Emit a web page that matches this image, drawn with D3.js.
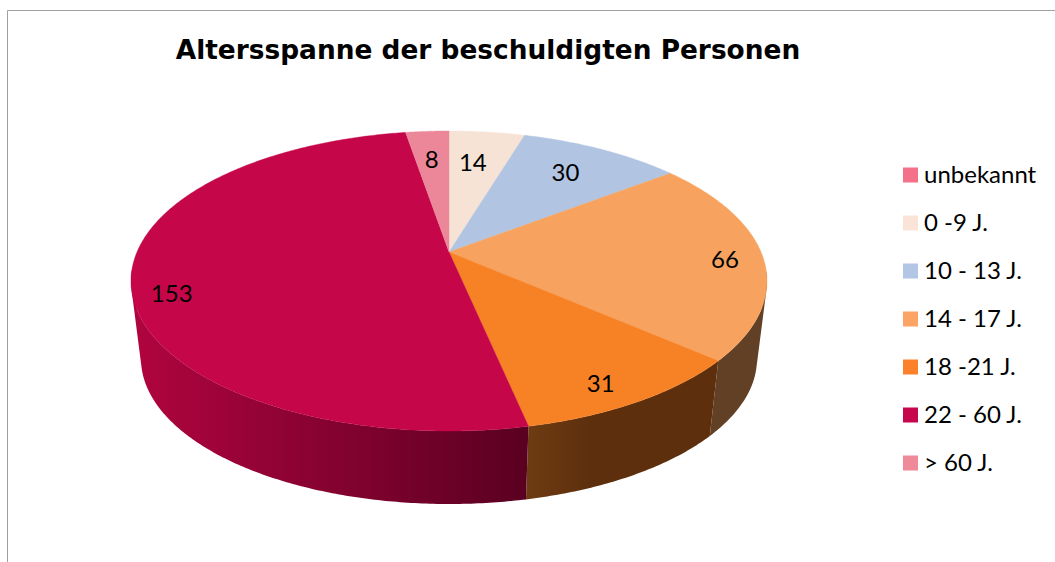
<!DOCTYPE html>
<html>
<head>
<meta charset="utf-8">
<script src="https://cdn.jsdelivr.net/npm/d3@7"></script>
<style>
  html, body { margin: 0; padding: 0; background: #fff; overflow: hidden; }
  svg { display: block; }
</style>
</head>
<body>
<script>
const categories = ["unbekannt", "0 -9 J.", "10 - 13 J.", "14 - 17 J.", "18 -21 J.", "22 - 60 J.", "> 60 J."];
const values = [0, 14, 30, 66, 31, 153, 8];
const title = "Altersspanne der beschuldigten Personen";

const sliceColors = ["#f4718a", "#f6e3d6", "#b1c5e2", "#f7a35f", "#f78226", "#c50649", "#ec8799"];
const legendColors = ["#f4718a", "#f9e4d7", "#b3c6e5", "#fca465", "#fb822a", "#c7074d", "#ef8a9a"];

// side wall shades along x, null = slice sits at the back, wall not seen
const wallStops = [null, null, null, [710, 760], [527, 590], [135, 527], null];
const wallColors = [
  null,
  null,
  null,
  ["#614026", "#614026"],
  ["#6e3c12", "#5e2f0d"],
  ["#b0043f", "#5a0020"],
  null,
];

// where each label sits on the disc: fraction of radius, clock angle in degrees
const labelRadius = [0, 0.713, 0.747, 0.877, 0.88, 0.885, 0.73];
const labelAngle = [0, 7, 34, 93.6, 152, 252, 355];

const width = 1055;
const height = 562;

const svg = d3
  .select("body")
  .append("svg")
  .attr("width", width)
  .attr("height", height)
  .attr("viewBox", [0, 0, width, height]);

// chart frame, only top and left are in view
svg
  .append("path")
  .attr("d", `M7.5,${height}V10.5H${width}`)
  .attr("fill", "none")
  .attr("stroke", "#a0a0a0")
  .attr("stroke-width", 1);

svg
  .append("text")
  .attr("x", 488)
  .attr("y", 59)
  .attr("text-anchor", "middle")
  .attr("font-family", "'DejaVu Sans', sans-serif")
  .attr("font-weight", "bold")
  .attr("font-size", 26.4)
  .attr("fill", "#000")
  .text(title);

// Perspective projection of the unit disc onto the screen.
// The pie centre lands at (cx, cy0), above the middle of the drawn ellipse.
const cx = 449;
const cy0 = 252;
const persp = -0.1933;
const depth = 95.7;
const radius = 312;

function project(angle, rho) {
  const c = rho * Math.sin(angle);
  const s = -rho * Math.cos(angle);
  const w = 1 + persp * s;
  return [cx + (radius * c) / w, (cy0 + depth * s) / w];
}

// lower rim: same outline, a bit smaller and pushed down
const lowerScale = 0.9686;
const ellipseMidY = 281;
const lowerMidY = 358.7;
function lower(p) {
  return [cx + lowerScale * (p[0] - cx), lowerMidY + lowerScale * (p[1] - ellipseMidY)];
}

const arcs = d3.pie().sort(null).value((d) => d)(values);
const line = d3.line();

function rim(d) {
  const pts = [];
  const n = Math.max(2, Math.ceil((d.endAngle - d.startAngle) / 0.01));
  for (let i = 0; i <= n; i++) {
    pts.push(project(d.startAngle + ((d.endAngle - d.startAngle) * i) / n, 1));
  }
  return pts;
}

// side walls first, the top face covers what is behind it.
// One path per slice made of thin quads, so the tangent edges at far left and
// right get filled and no seams show between the quads.
const defs = svg.append("defs");
const walls = svg.append("g");
arcs.forEach((d, i) => {
  if (!wallColors[i] || d.value === 0) return;
  const grad = defs
    .append("linearGradient")
    .attr("id", `wall${i}`)
    .attr("gradientUnits", "userSpaceOnUse")
    .attr("x1", wallStops[i][0])
    .attr("x2", wallStops[i][1])
    .attr("y1", 0)
    .attr("y2", 0);
  grad.append("stop").attr("offset", 0).attr("stop-color", wallColors[i][0]);
  grad.append("stop").attr("offset", 1).attr("stop-color", wallColors[i][1]);

  const top = rim(d);
  let path = "";
  for (let k = 0; k < top.length - 1; k++) {
    if (top[k][1] < 270 || top[k + 1][1] < 270) continue;
    const quad = [top[k], top[k + 1], lower(top[k + 1]), lower(top[k])];
    // past the tangent point quads flip, keep them all one way round or they cancel out
    if (d3.polygonArea(quad) < 0) quad.reverse();
    path += line(quad) + "Z";
  }
  walls.append("path").attr("d", path).attr("fill", `url(#wall${i})`);
});

// top face
svg
  .append("g")
  .selectAll("path")
  .data(arcs.filter((d) => d.value > 0))
  .join("path")
  .attr("d", (d) => line([[cx, cy0], ...rim(d)]) + "Z")
  .attr("fill", (d) => sliceColors[d.index])
  .attr("stroke", (d) => sliceColors[d.index])
  .attr("stroke-width", 0.4);

// data labels
svg
  .append("g")
  .attr("font-family", "Lato, sans-serif")
  .attr("font-size", 24)
  .attr("fill", "#000")
  .attr("text-anchor", "middle")
  .selectAll("text")
  .data(arcs.filter((d) => d.value > 0))
  .join("text")
  .attr("transform", (d) => {
    const p = project((labelAngle[d.index] * Math.PI) / 180, labelRadius[d.index]);
    return `translate(${p[0]},${p[1]})`;
  })
  .attr("dy", "0.35em")
  .text((d) => d.value);

// legend
const legendY = d3.scalePoint().domain(categories).range([175, 463]);

const legend = svg
  .append("g")
  .selectAll("g")
  .data(categories)
  .join("g")
  .attr("transform", (d) => `translate(903,${legendY(d)})`);

legend
  .append("rect")
  .attr("y", -7.5)
  .attr("width", 15)
  .attr("height", 15)
  .attr("fill", (d, i) => legendColors[i]);

legend
  .append("text")
  .attr("x", 21)
  .attr("dy", "0.35em")
  .attr("font-family", "Lato, sans-serif")
  .attr("font-size", 24)
  .attr("fill", "#000")
  .text((d) => d);
</script>
</body>
</html>
